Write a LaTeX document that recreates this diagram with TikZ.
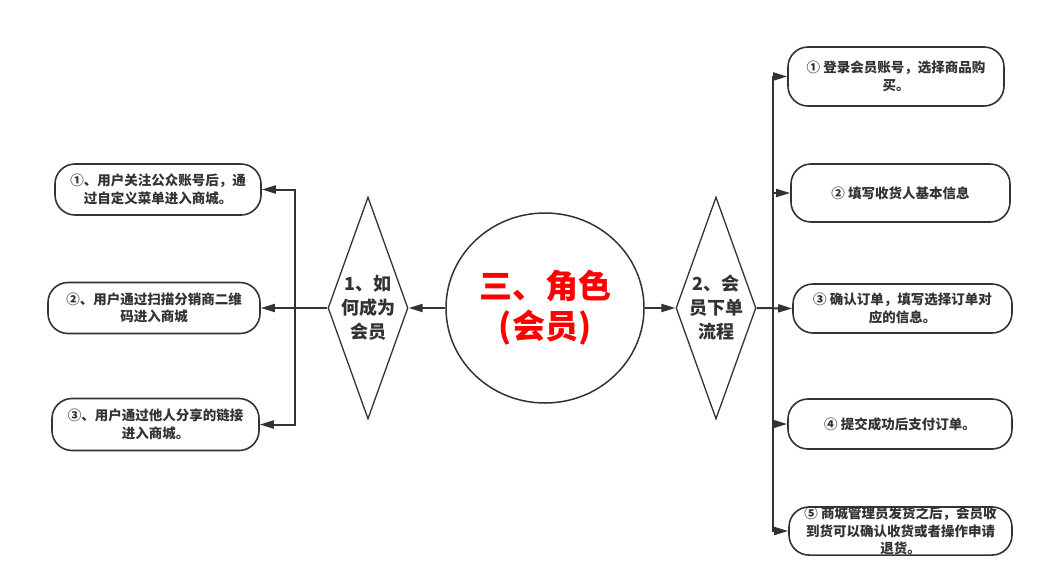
\documentclass[tikz,border=0pt]{standalone}
\usepackage{fontspec}
\newfontfamily\cjk{Noto Sans CJK SC}
\usetikzlibrary{positioning,arrows.meta,shapes.geometric}
\definecolor{linegray}{HTML}{333333}
\definecolor{titlered}{HTML}{FF0000}

\tikzset{
  stepbox/.style={draw=linegray, line width=1.6pt, rounded corners=20pt,
    inner sep=0pt, align=center, text=linegray,
    font=\cjk\bfseries\fontsize{13.5}{17.5}\selectfont},
  choice/.style={diamond, aspect=0.36, draw=linegray, line width=1.3pt,
    inner sep=0pt, minimum width=80pt, minimum height=222pt, align=center,
    text=linegray, font=\cjk\bfseries\fontsize{18}{24}\selectfont},
  arr/.style={draw=linegray, line width=2pt,
    -{Triangle[length=14pt,width=8pt]}},
}

\begin{document}
\begin{tikzpicture}[x=1pt,y=-1pt]
  \useasboundingbox (0,0) rectangle (1044,587);

  % central ellipse
  \node[ellipse, draw=linegray, line width=1.5pt, minimum width=198pt,
    minimum height=190pt, inner sep=0pt, align=center, text=titlered,
    font=\cjk\bfseries\fontsize{33}{40}\selectfont]
    (role) at (545,308) {三、角色\\(会员)};

  % diamonds
  \node[choice] (join) at (368,308) {1、如\\何成为\\会员};
  \node[choice] (order) at (716,308) {2、会\\员下单\\流程};

  % left boxes
  \node[stepbox, minimum width=206pt, minimum height=51pt] (j1) at (158,189.5)
    {①、用户关注公众账号后，通\\过自定义菜单进入商城。};
  \node[stepbox, minimum width=212pt, minimum height=51pt] (j2) at (154,308)
    {②、用户通过扫描分销商二维\\码进入商城};
  \node[stepbox, minimum width=207pt, minimum height=52pt] (j3) at (155.5,424.5)
    {③、用户通过他人分享的链接\\进入商城。};

  % right boxes
  \node[stepbox, minimum width=216pt, minimum height=59pt] (o1) at (896,76.5)
    {① 登录会员账号，选择商品购\\买。};
  \node[stepbox, minimum width=219pt, minimum height=58pt] (o2) at (900.5,193)
    {② 填写收货人基本信息};
  \node[stepbox, minimum width=219pt, minimum height=49pt] (o3) at (902.5,308.5)
    {③ 确认订单，填写选择订单对\\应的信息。};
  \node[stepbox, minimum width=224pt, minimum height=50pt] (o4) at (900,424)
    {④ 提交成功后支付订单。};
  \node[stepbox, minimum width=223pt, minimum height=48pt] (o5) at (900.5,531)
    {⑤ 商城管理员发货之后，会员收\\到货可以确认收货或者操作申请\\退货。};

  % bus points
  \coordinate (jbus) at (295,308);
  \coordinate (obus) at (773,308);

  % connectors
  \draw[arr] (role.west) -- (join.east);
  \draw[arr] (role.east) -- (order.west);

  \draw[arr] (join.west) -- (j2.east);
  \draw[arr] (join.west) -- (jbus) |- (j1.east);
  \draw[arr] (join.west) -- (jbus) |- (j3.east);

  \draw[arr] (order.east) -- (o3.west);
  \draw[arr] (obus) |- (o1.west);
  \draw[arr] (obus) |- (o2.west);
  \draw[arr] (obus) |- (o4.west);
  \draw[arr] (obus) |- (o5.west);
\end{tikzpicture}
\end{document}
